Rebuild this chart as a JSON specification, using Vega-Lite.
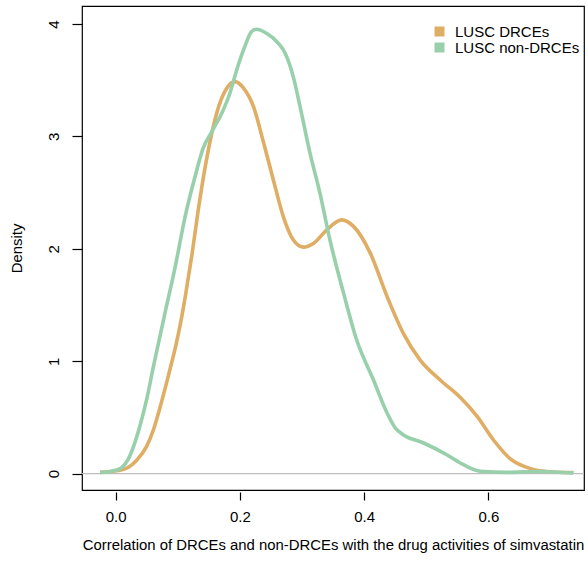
{
  "$schema": "https://vega.github.io/schema/vega-lite/v6.json",
  "width": 502,
  "height": 484,
  "autosize": {"type": "none"},
  "padding": {"left": 82, "top": 6, "right": 4, "bottom": 71},
  "background": "white",
  "config": {
    "view": {"stroke": "black", "strokeWidth": 1.2},
    "font": "Liberation Sans",
    "axis": {"grid": false, "domain": false, "tickColor": "black", "tickWidth": 1.2, "labelColor": "black", "titleColor": "black", "labelFont": "Liberation Sans", "titleFont": "Liberation Sans", "titleFontWeight": "normal", "labelFontSize": 15, "titleFontSize": 14.9}
  },
  "datasets": {
    "curves": [
      {"group": "LUSC DRCEs", "x": -0.025, "y": 0.012},
      {"group": "LUSC DRCEs", "x": -0.005, "y": 0.022},
      {"group": "LUSC DRCEs", "x": 0.01, "y": 0.035},
      {"group": "LUSC DRCEs", "x": 0.022, "y": 0.062},
      {"group": "LUSC DRCEs", "x": 0.034, "y": 0.12},
      {"group": "LUSC DRCEs", "x": 0.05, "y": 0.243},
      {"group": "LUSC DRCEs", "x": 0.061, "y": 0.391},
      {"group": "LUSC DRCEs", "x": 0.072, "y": 0.598},
      {"group": "LUSC DRCEs", "x": 0.082, "y": 0.806},
      {"group": "LUSC DRCEs", "x": 0.09, "y": 0.98},
      {"group": "LUSC DRCEs", "x": 0.097, "y": 1.14},
      {"group": "LUSC DRCEs", "x": 0.105, "y": 1.35},
      {"group": "LUSC DRCEs", "x": 0.113, "y": 1.6},
      {"group": "LUSC DRCEs", "x": 0.123, "y": 1.95},
      {"group": "LUSC DRCEs", "x": 0.133, "y": 2.34},
      {"group": "LUSC DRCEs", "x": 0.144, "y": 2.72},
      {"group": "LUSC DRCEs", "x": 0.155, "y": 3.03},
      {"group": "LUSC DRCEs", "x": 0.166, "y": 3.265},
      {"group": "LUSC DRCEs", "x": 0.179, "y": 3.428},
      {"group": "LUSC DRCEs", "x": 0.192, "y": 3.487},
      {"group": "LUSC DRCEs", "x": 0.206, "y": 3.43},
      {"group": "LUSC DRCEs", "x": 0.222, "y": 3.265},
      {"group": "LUSC DRCEs", "x": 0.238, "y": 2.95},
      {"group": "LUSC DRCEs", "x": 0.254, "y": 2.613},
      {"group": "LUSC DRCEs", "x": 0.27, "y": 2.287},
      {"group": "LUSC DRCEs", "x": 0.286, "y": 2.08},
      {"group": "LUSC DRCEs", "x": 0.302, "y": 2.015},
      {"group": "LUSC DRCEs", "x": 0.319, "y": 2.05},
      {"group": "LUSC DRCEs", "x": 0.34, "y": 2.169},
      {"group": "LUSC DRCEs", "x": 0.364, "y": 2.258},
      {"group": "LUSC DRCEs", "x": 0.383, "y": 2.2},
      {"group": "LUSC DRCEs", "x": 0.41, "y": 1.962},
      {"group": "LUSC DRCEs", "x": 0.437, "y": 1.576},
      {"group": "LUSC DRCEs", "x": 0.463, "y": 1.251},
      {"group": "LUSC DRCEs", "x": 0.49, "y": 1.013},
      {"group": "LUSC DRCEs", "x": 0.523, "y": 0.831},
      {"group": "LUSC DRCEs", "x": 0.555, "y": 0.677},
      {"group": "LUSC DRCEs", "x": 0.582, "y": 0.509},
      {"group": "LUSC DRCEs", "x": 0.608, "y": 0.302},
      {"group": "LUSC DRCEs", "x": 0.635, "y": 0.134},
      {"group": "LUSC DRCEs", "x": 0.668, "y": 0.045},
      {"group": "LUSC DRCEs", "x": 0.694, "y": 0.02},
      {"group": "LUSC DRCEs", "x": 0.737, "y": 0.01},
      {"group": "LUSC non-DRCEs", "x": -0.025, "y": 0.012},
      {"group": "LUSC non-DRCEs", "x": -0.01, "y": 0.018},
      {"group": "LUSC non-DRCEs", "x": 0.0, "y": 0.03},
      {"group": "LUSC non-DRCEs", "x": 0.01, "y": 0.055},
      {"group": "LUSC non-DRCEs", "x": 0.02, "y": 0.125},
      {"group": "LUSC non-DRCEs", "x": 0.029, "y": 0.243},
      {"group": "LUSC non-DRCEs", "x": 0.039, "y": 0.42},
      {"group": "LUSC non-DRCEs", "x": 0.05, "y": 0.658},
      {"group": "LUSC non-DRCEs", "x": 0.061, "y": 0.954},
      {"group": "LUSC non-DRCEs", "x": 0.069, "y": 1.16},
      {"group": "LUSC non-DRCEs", "x": 0.08, "y": 1.44},
      {"group": "LUSC non-DRCEs", "x": 0.096, "y": 1.84},
      {"group": "LUSC non-DRCEs", "x": 0.112, "y": 2.287},
      {"group": "LUSC non-DRCEs", "x": 0.128, "y": 2.643},
      {"group": "LUSC non-DRCEs", "x": 0.141, "y": 2.895},
      {"group": "LUSC non-DRCEs", "x": 0.155, "y": 3.043},
      {"group": "LUSC non-DRCEs", "x": 0.171, "y": 3.206},
      {"group": "LUSC non-DRCEs", "x": 0.184, "y": 3.384},
      {"group": "LUSC non-DRCEs", "x": 0.195, "y": 3.591},
      {"group": "LUSC non-DRCEs", "x": 0.206, "y": 3.769},
      {"group": "LUSC non-DRCEs", "x": 0.219, "y": 3.932},
      {"group": "LUSC non-DRCEs", "x": 0.227, "y": 3.953},
      {"group": "LUSC non-DRCEs", "x": 0.243, "y": 3.917},
      {"group": "LUSC non-DRCEs", "x": 0.262, "y": 3.828},
      {"group": "LUSC non-DRCEs", "x": 0.273, "y": 3.74},
      {"group": "LUSC non-DRCEs", "x": 0.286, "y": 3.532},
      {"group": "LUSC non-DRCEs", "x": 0.297, "y": 3.265},
      {"group": "LUSC non-DRCEs", "x": 0.313, "y": 2.851},
      {"group": "LUSC non-DRCEs", "x": 0.329, "y": 2.495},
      {"group": "LUSC non-DRCEs", "x": 0.345, "y": 2.08},
      {"group": "LUSC non-DRCEs", "x": 0.367, "y": 1.606},
      {"group": "LUSC non-DRCEs", "x": 0.388, "y": 1.191},
      {"group": "LUSC non-DRCEs", "x": 0.415, "y": 0.836},
      {"group": "LUSC non-DRCEs", "x": 0.437, "y": 0.54},
      {"group": "LUSC non-DRCEs", "x": 0.45, "y": 0.409},
      {"group": "LUSC non-DRCEs", "x": 0.463, "y": 0.347},
      {"group": "LUSC non-DRCEs", "x": 0.496, "y": 0.273},
      {"group": "LUSC non-DRCEs", "x": 0.533, "y": 0.169},
      {"group": "LUSC non-DRCEs", "x": 0.56, "y": 0.08},
      {"group": "LUSC non-DRCEs", "x": 0.587, "y": 0.022},
      {"group": "LUSC non-DRCEs", "x": 0.63, "y": 0.012},
      {"group": "LUSC non-DRCEs", "x": 0.684, "y": 0.02},
      {"group": "LUSC non-DRCEs", "x": 0.737, "y": 0.006}
    ],
    "zero": [{"y": 0}]
  },
  "layer": [
    {
      "data": {"name": "zero"},
      "mark": {"type": "rule", "color": "#BEBEBE", "strokeWidth": 1.2},
      "encoding": {
        "y": {"field": "y", "type": "quantitative", "scale": {"domain": [-0.145, 4.16], "nice": false, "zero": false}}
      }
    },
    {
      "data": {"name": "curves"},
      "mark": {"type": "line", "strokeWidth": 3.6, "interpolate": "monotone"},
      "encoding": {
        "x": {
          "field": "x", "type": "quantitative",
          "scale": {"domain": [-0.054, 0.754], "nice": false, "zero": false},
          "axis": {"values": [0, 0.2, 0.4, 0.6], "format": ".1f", "offset": 2, "tickSize": 8, "labelPadding": 9, "title": "Correlation of DRCEs and non-DRCEs with the drug activities of simvastatin", "titlePadding": 13}
        },
        "y": {
          "field": "y", "type": "quantitative",
          "scale": {"domain": [-0.145, 4.16], "nice": false, "zero": false},
          "axis": {"values": [0, 1, 2, 3, 4], "format": "d", "tickSize": 10, "labelAngle": -90, "labelAlign": "center", "labelBaseline": "bottom", "labelPadding": 11, "title": "Density", "titlePadding": 22}
        },
        "color": {
          "field": "group", "type": "nominal",
          "scale": {"domain": ["LUSC DRCEs", "LUSC non-DRCEs"], "range": ["#DFAD64", "#97D0AB"]},
          "legend": {
            "title": null, "orient": "none", "legendX": 350, "legendY": 18,
            "symbolType": "square", "symbolSize": 100, "symbolStrokeWidth": 0,
            "labelFontSize": 15, "labelFont": "Liberation Sans", "labelColor": "black", "labelOffset": 8, "rowPadding": 0, "padding": 0,
            "encode": {"symbols": {"update": {"fill": {"scale": "color", "field": "value"}, "strokeWidth": {"value": 0}, "shape": {"value": "square"}}}}
          }
        }
      }
    }
  ]
}
